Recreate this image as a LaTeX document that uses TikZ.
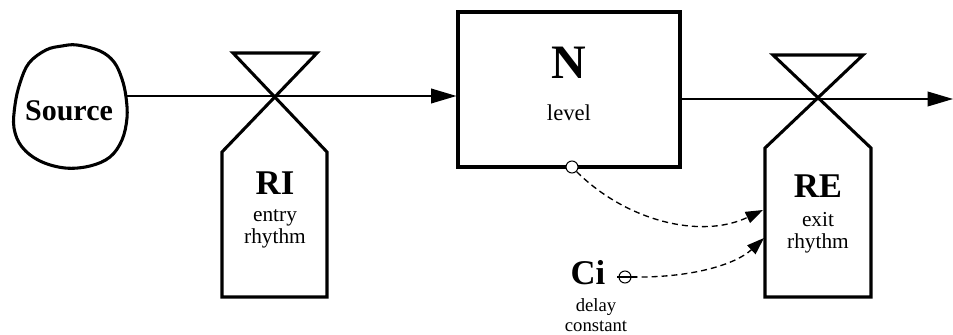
\documentclass[tikz,border=0pt]{standalone}
\usepackage{fontspec}
\setmainfont{Liberation Serif}
\usetikzlibrary{arrows.meta}
\tikzset{
  outline/.style={line width=2.3pt, line join=miter},
  flow/.style={line width=1.1pt, -{Triangle[length=19pt,width=11pt]}},
  info/.style={line width=1pt, dash pattern=on 4.5pt off 3pt, -{Triangle[length=13pt,width=9pt]}},
  bigtag/.style={font=\fontsize{26}{28}\selectfont\bfseries, inner sep=0pt},
  smalltag/.style={font=\fontsize{16}{16.5}\selectfont, align=center, inner sep=0pt},
  tap/.style={circle, draw, line width=0.8pt, fill=white, minimum size=9pt, inner sep=0pt}
}
\begin{document}
\begin{tikzpicture}[x=0.75pt, y=-0.75pt]
\useasboundingbox (0,0) rectangle (953,335);

% source cloud
\draw[line width=2.3pt] plot[smooth cycle, tension=0.6] coordinates {
  (77,45) (100,51) (114,62) (122,79) (126,97) (127,118) (122,140) (110,157)
  (90,166) (65,168) (40,161) (22,147) (14,128) (15,105) (20,83) (29,63)
  (46,50) (62,46)};
\node[font=\fontsize{22.5}{24}\selectfont\bfseries, inner sep=0pt] (src) at (69,111) {Source};
\coordinate (srcout) at (127,96);

% level N
\node[draw, outline, minimum width=222*0.75pt, minimum height=155*0.75pt, inner sep=0pt] (N) at (569,89.5) {};
\node[font=\fontsize{36}{38}\selectfont\bfseries, inner sep=0pt] (Ntag) at (569,63) {N};
\node[smalltag, font=\fontsize{17}{18}\selectfont] (Nlab) at (569,113) {level};

% entry valve RI
\draw[outline] (222,297) -- (222,152) -- (317,53) -- (233,53) -- (327,152) -- (327,297) -- cycle;
\coordinate (RIx) at (275,96);
\node[bigtag] (RI) at (275,183) {RI};
\node[smalltag] (RIlab) at (275,229) {entry\\rhythm};

% exit valve RE
\draw[outline] (765,297) -- (765,148) -- (863,55) -- (773,55) -- (871,148) -- (871,297) -- cycle;
\coordinate (REx) at (818,99);
\node[bigtag] (RE) at (818,186) {RE};
\node[smalltag] (RElab) at (818,232.5) {exit\\rhythm};

% flows
\draw[flow] (srcout) -- (N.west |- srcout);
\coordinate (sink) at (953,99);
\draw[flow] (N.east |- REx) -- (sink);

% delay constant Ci
\node[bigtag] (Ci) at (588,273) {Ci};
\node[smalltag, font=\fontsize{14}{14.5}\selectfont] (Cilab) at (596,315) {delay\\constant};
\node[tap] (Citap) at (625,277) {};
\draw[line width=0.8pt] (617,277) -- (637,277);

% information links
\node[tap] (Ntap) at (572,167) {};
\coordinate (REin1) at (763,210);
\coordinate (REin2) at (764,238);
\draw[info] (Ntap.south east) .. controls (625,220) and (700,240) .. (REin1);
\draw[info] (Citap.east) .. controls (690,278) and (735,265) .. (REin2);
\end{tikzpicture}
\end{document}
